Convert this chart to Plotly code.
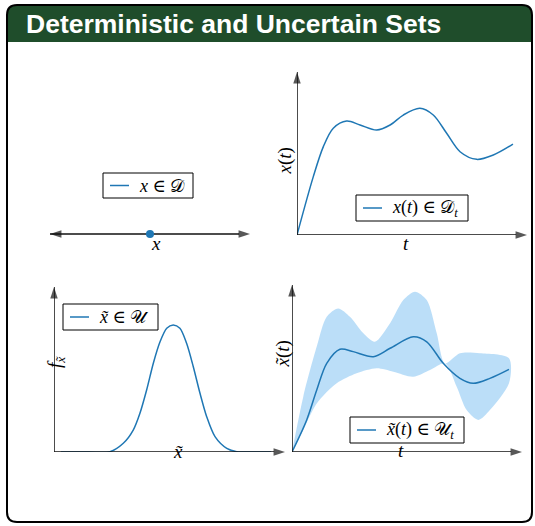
import plotly.graph_objects as go

W, H = 535, 526
C0 = "#1f77b4"
AXC = "#111111"
BAND = "rgba(150,205,245,0.65)"
SERIF = "Liberation Serif, DejaVu Serif, serif"

# ---------------- data ----------------
dot_x = [0.0]
dot_y = [0.0]

det_t = [0.0, 0.755, 1.22, 1.68, 2.30, 2.92, 3.69, 4.31, 4.92, 5.69, 6.31, 6.93, 7.55, 8.32, 9.09, 10.0]
det_x = [0.0, 0.358, 0.542, 0.655, 0.699, 0.675, 0.644, 0.675, 0.736, 0.777, 0.736, 0.624, 0.511, 0.464, 0.491, 0.558]

pdf_x = [0.3, 1.5, 2.42, 3.00, 3.43, 3.72, 4.01, 4.30, 4.59, 4.88, 5.16, 5.45, 5.74, 6.03, 6.32, 6.61, 6.97, 7.48, 7.91, 8.8, 9.4]
pdf_y = [0.0, 0.0, 0.002, 0.053, 0.133, 0.235, 0.376, 0.538, 0.668, 0.750, 0.770, 0.750, 0.659, 0.517, 0.356, 0.214, 0.093, 0.022, 0.002, 0.0, 0.0]

unc_t = [0.0, 0.678, 1.14, 1.60, 2.21, 2.82, 3.75, 4.52, 5.59, 6.21, 6.97, 7.74, 8.35, 9.12, 10.0]
unc_mean = [0.0, 0.192, 0.371, 0.531, 0.615, 0.601, 0.571, 0.621, 0.690, 0.660, 0.531, 0.441, 0.411, 0.441, 0.495]

up_t = [0.0, 0.52, 1.14, 1.60, 2.13, 2.67, 3.29, 3.82, 4.52, 5.13, 5.67, 6.21, 6.67, 7.05, 7.74, 8.66, 10.0]
up_y = [0.0, 0.331, 0.631, 0.810, 0.860, 0.810, 0.711, 0.660, 0.771, 0.910, 0.960, 0.910, 0.711, 0.531, 0.591, 0.591, 0.561]

lo_t = [0.52, 1.14, 2.06, 2.98, 3.90, 4.67, 5.59, 6.36, 7.05, 7.59, 8.05, 8.59, 9.12, 10.0]
lo_y = [0.13, 0.29, 0.411, 0.471, 0.501, 0.481, 0.451, 0.491, 0.531, 0.391, 0.251, 0.192, 0.251, 0.411]

legend_labels = [
    "<i>x</i> ∈ 𝒟",
    "<i>x</i>(<i>t</i>) ∈ 𝒟<sub><i>t</i></sub>",
    "<i>x̃</i> ∈ 𝒰",
    "<i>x̃</i>(<i>t</i>) ∈ 𝒰<sub><i>t</i></sub>",
]

# axis extents per panel (x_end, y_end) in each panel's own data units
axis_ends = {"2": (10.65, 1.0), "3": (10.0, 1.0), "4": (10.6, 1.0)}


def px(x):
    return x / W


def py(y):
    return 1 - y / H


fig = go.Figure()

# panel 2: deterministic trajectory
fig.add_trace(go.Scatter(x=det_t, y=det_x, mode="lines", line=dict(color=C0, width=1.5, shape="spline", smoothing=0.9),
                         xaxis="x2", yaxis="y2", name="x(t) ∈ D_t", showlegend=False))

# panel 3: pdf
fig.add_trace(go.Scatter(x=pdf_x, y=pdf_y, mode="lines", line=dict(color=C0, width=1.5, shape="spline", smoothing=0.8),
                         xaxis="x3", yaxis="y3", name="x̃ ∈ U", showlegend=False))

# panel 4: uncertain trajectory (band as closed polygon)
band_t = up_t + lo_t[::-1]
band_y = up_y + lo_y[::-1]
fig.add_trace(go.Scatter(x=band_t, y=band_y, mode="lines", line=dict(width=0, shape="spline", smoothing=0.8),
                         fill="toself", fillcolor=BAND,
                         xaxis="x4", yaxis="y4", showlegend=False, hoverinfo="skip"))
fig.add_trace(go.Scatter(x=unc_t, y=unc_mean, mode="lines", line=dict(color=C0, width=1.5, shape="spline", smoothing=0.9),
                         xaxis="x4", yaxis="y4", name="x̃(t) ∈ U_t", showlegend=False))

# axes with arrowheads (drawn as line traces ending in arrow markers)
axis_line = dict(color=AXC, width=1.5)
arrow_marker = dict(symbol="arrow", angleref="previous", size=[0, 12], color=AXC, line=dict(width=0))
for side in (-1, 1):
    fig.add_trace(go.Scatter(x=[0, side], y=[0, 0], mode="lines+markers", line=axis_line, marker=arrow_marker,
                             xaxis="x", yaxis="y", showlegend=False, hoverinfo="skip", cliponaxis=False))
for k, (xe, ye) in axis_ends.items():
    fig.add_trace(go.Scatter(x=[0, xe], y=[0, 0], mode="lines+markers", line=axis_line, marker=arrow_marker,
                             xaxis="x" + k, yaxis="y" + k, showlegend=False, hoverinfo="skip", cliponaxis=False))
    fig.add_trace(go.Scatter(x=[0, 0], y=[0, ye], mode="lines+markers", line=axis_line, marker=arrow_marker,
                             xaxis="x" + k, yaxis="y" + k, showlegend=False, hoverinfo="skip", cliponaxis=False))

# panel 1: deterministic point on a line
fig.add_trace(go.Scatter(x=dot_x, y=dot_y, mode="markers", marker=dict(color=C0, size=8),
                         xaxis="x", yaxis="y", name="x ∈ D", showlegend=False, cliponaxis=False))

ax_common = dict(visible=False, fixedrange=True)
layout = dict(
    width=W, height=H, margin=dict(l=0, r=0, t=0, b=0),
    paper_bgcolor="white", plot_bgcolor="rgba(0,0,0,0)", showlegend=False,
    xaxis=dict(domain=[px(50), px(250)], range=[-1, 1], anchor="y", **ax_common),
    yaxis=dict(domain=[py(250), py(218)], range=[-1, 1], anchor="x", **ax_common),
    xaxis2=dict(domain=[px(297), px(527)], range=[0, 10.65], anchor="y2", **ax_common),
    yaxis2=dict(domain=[py(235), py(72)], range=[0, 1], anchor="x2", **ax_common),
    xaxis3=dict(domain=[px(54), px(285)], range=[0, 10], anchor="y3", **ax_common),
    yaxis3=dict(domain=[py(452), py(287)], range=[0, 1], anchor="x3", **ax_common),
    xaxis4=dict(domain=[px(292), px(522)], range=[0, 10.6], anchor="y4", **ax_common),
    yaxis4=dict(domain=[py(452), py(285)], range=[0, 1], anchor="x4", **ax_common),
)
fig.update_layout(**layout)

# frame and title bar
r = 10
x0, x1, y0, y1, yb = 7, 532, 5, 522, 42


def P(x, y):
    return f"{px(x):.5f},{py(y):.5f}"


bar = (f"M {P(x0, yb)} L {P(x0, y0 + r)} Q {P(x0, y0)} {P(x0 + r, y0)} "
       f"L {P(x1 - r, y0)} Q {P(x1, y0)} {P(x1, y0 + r)} L {P(x1, yb)} Z")
frame = (f"M {P(x0 + r, y0)} L {P(x1 - r, y0)} Q {P(x1, y0)} {P(x1, y0 + r)} "
         f"L {P(x1, y1 - r)} Q {P(x1, y1)} {P(x1 - r, y1)} L {P(x0 + r, y1)} "
         f"Q {P(x0, y1)} {P(x0, y1 - r)} L {P(x0, y0 + r)} Q {P(x0, y0)} {P(x0 + r, y0)} Z")
fig.add_shape(type="path", path=bar, xref="paper", yref="paper", fillcolor="#1f4d2b", line=dict(width=0), layer="below")
fig.add_shape(type="path", path=frame, xref="paper", yref="paper", line=dict(color="black", width=2), layer="above")

fig.add_annotation(text="<b>Deterministic and Uncertain Sets</b>", x=px(24), y=py(24), xref="paper", yref="paper",
                   xanchor="left", yanchor="middle", showarrow=False,
                   font=dict(family="Liberation Sans, Arial, sans-serif", size=26.5, color="white"))

# legends: box, short line sample, text
legend_boxes = [(103, 173, 193, 198), (356, 195, 468, 221), (63, 304, 158, 330), (350, 417, 464, 443)]
for (lx0, ly0, lx1, ly1), label in zip(legend_boxes, legend_labels):
    cy = (ly0 + ly1) / 2
    fig.add_shape(type="rect", x0=px(lx0), x1=px(lx1), y0=py(ly1), y1=py(ly0), xref="paper", yref="paper",
                  fillcolor="white", line=dict(color="black", width=1), layer="above")
    fig.add_shape(type="line", x0=px(lx0 + 7), x1=px(lx0 + 26), y0=py(cy), y1=py(cy),
                  xref="paper", yref="paper", line=dict(color=C0, width=1.5), layer="above")
    fig.add_annotation(text=label, x=px(lx0 + 34), y=py(cy), xref="paper", yref="paper",
                       xanchor="left", yanchor="middle", showarrow=False,
                       font=dict(family=SERIF, size=18, color="black"))

# axis labels
lab = dict(showarrow=False, font=dict(family=SERIF, size=19, color="black"), xref="paper", yref="paper")
fig.add_annotation(text="<i>x</i>", x=px(149), y=py(244), **lab)
fig.add_annotation(text="<i>t</i>", x=px(411), y=py(244), **lab)
fig.add_annotation(text="<i>x</i>(<i>t</i>)", x=px(284), y=py(146), textangle=-90, **lab)
fig.add_annotation(text="<i>x̃</i>", x=px(171), y=py(464), **lab)
fig.add_annotation(text="<i>f</i><sub><i>x̃</i></sub>", x=px(42), y=py(370), textangle=-90, **lab)
fig.add_annotation(text="<i>t</i>", x=px(406), y=py(463), **lab)
fig.add_annotation(text="<i>x̃</i>(<i>t</i>)", x=px(282), y=py(370), textangle=-90, **lab)

fig.write_html("out.html")
